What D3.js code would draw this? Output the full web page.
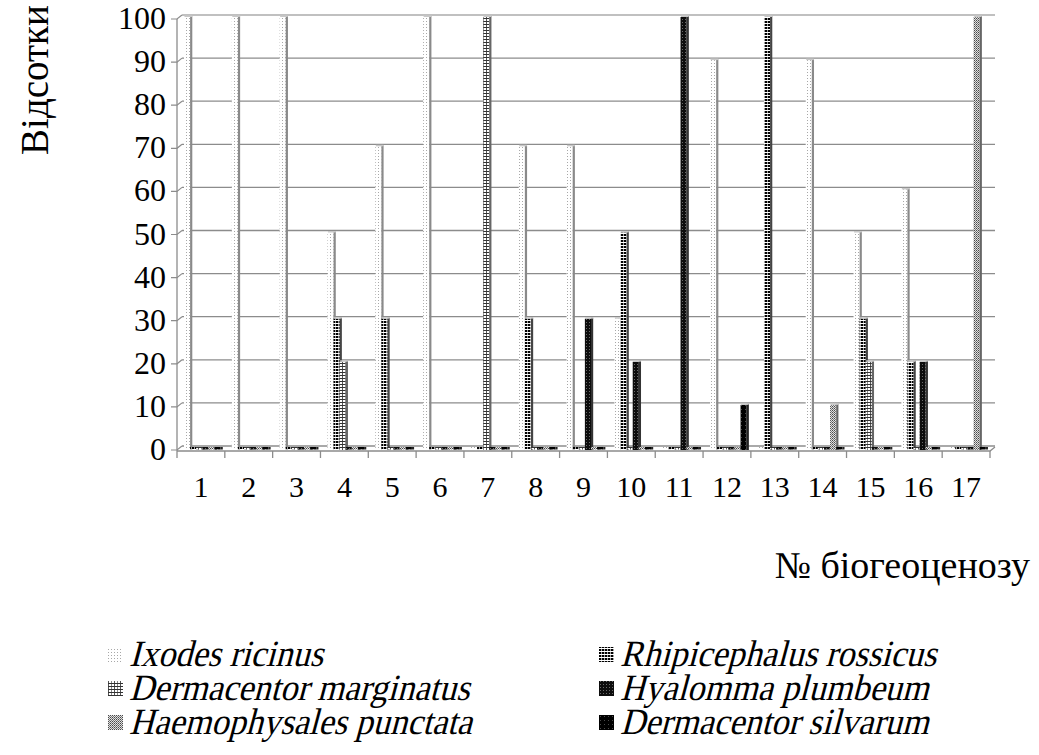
<!DOCTYPE html>
<html>
<head>
<meta charset="utf-8">
<script src="https://cdn.jsdelivr.net/npm/d3@7"></script>
<style>
  html, body { margin: 0; padding: 0; background: #fff; }
  svg { display: block; }
  text { font-family: "Liberation Serif", "Times New Roman", serif; fill: #000; }
</style>
</head>
<body>
<div id="chart"></div>
<script>
;(function(d3){

    'use strict';

    // categories (biogeocenosis numbers)
    var categories = ['1','2','3','4','5','6','7','8','9','10','11','12','13','14','15','16','17'];

    // series names, in the order the bars stand in each group
    var seriesNames = ['Ixodes ricinus', 'Rhipicephalus rossicus', 'Dermacentor marginatus',
                       'Hyalomma plumbeum', 'Haemophysales punctata', 'Dermacentor silvarum'];

    // values, percent
    var ixodes    = [100,100,100,50,70,100,0,70,70,30,0,90,0,90,50,60,0];
    var rhipiceph = [0,0,0,30,30,0,0,30,0,50,0,0,100,0,30,20,0];
    var dermMarg  = [0,0,0,20,0,0,100,0,0,0,0,0,0,0,20,0,0];
    var hyalomma  = [0,0,0,0,0,0,0,0,30,20,100,0,0,0,0,20,0];
    var haemoph   = [0,0,0,0,0,0,0,0,0,0,0,0,0,10,0,0,100];
    var dermSilv  = [0,0,0,0,0,0,0,0,0,0,0,10,0,0,0,0,0];

    var yTicks = [0,10,20,30,40,50,60,70,80,90,100];

    // legend layout: left column, right column
    var legendLeft  = ['Ixodes ricinus', 'Dermacentor marginatus', 'Haemophysales punctata'];
    var legendRight = ['Rhipicephalus rossicus', 'Hyalomma plumbeum', 'Dermacentor silvarum'];

    var seriesValues = [ixodes, rhipiceph, dermMarg, hyalomma, haemoph, dermSilv];
    var patternIds = ['pIx', 'pRh', 'pDm', 'pHy', 'pHa', 'pDs'];
    var sideColors = ['#8a8a8a', '#444', '#666', '#333', '#666', '#222'];

    var serif = '"Liberation Serif", "Times New Roman", serif';

    var W = 1039, H = 755;

    var svg = d3.select('#chart').append('svg')
        .attr('width', W).attr('height', H);

    svg.append('rect').attr('width', W).attr('height', H).attr('fill', '#fff');

    // ---- patterns ----
    var defs = svg.append('defs');

    function pat(id, w, h, bg){
        var p = defs.append('pattern').attr('id', id)
            .attr('patternUnits', 'userSpaceOnUse')
            .attr('width', w).attr('height', h);
        p.append('rect').attr('width', w).attr('height', h).attr('fill', bg);
        return p;
    }

    var p1 = pat('pIx', 3, 3, '#fff');
    p1.append('rect').attr('x', 0).attr('y', 0).attr('width', 1).attr('height', 1).attr('fill', '#a8a8a8');

    var p2 = pat('pRh', 3, 3, '#fff');
    p2.append('rect').attr('x', 0).attr('y', 0).attr('width', 2).attr('height', 2).attr('fill', '#000');
    p2.append('rect').attr('x', 2).attr('y', 0.5).attr('width', 1).attr('height', 1).attr('fill', '#444');

    var p3 = pat('pDm', 6, 3, '#fff');
    p3.append('rect').attr('x', 0).attr('y', 0).attr('width', 6).attr('height', 1).attr('fill', '#333');
    p3.append('rect').attr('x', 0).attr('y', 1).attr('width', 1).attr('height', 2).attr('fill', '#555');
    p3.append('rect').attr('x', 3).attr('y', 1).attr('width', 1).attr('height', 2).attr('fill', '#888');

    var p4 = pat('pHy', 3, 3, '#0d0d0d');
    p4.append('rect').attr('x', 1).attr('y', 1).attr('width', 1).attr('height', 1).attr('fill', '#6a6a6a');

    var p5 = pat('pHa', 2, 2, '#e0e0e0');
    p5.append('rect').attr('x', 0).attr('y', 0).attr('width', 1).attr('height', 1).attr('fill', '#4a4a4a');
    p5.append('rect').attr('x', 1).attr('y', 1).attr('width', 1).attr('height', 1).attr('fill', '#7a7a7a');

    var p6 = pat('pDs', 4, 4, '#000');
    p6.append('rect').attr('x', 1).attr('y', 1).attr('width', 1).attr('height', 1).attr('fill', '#4a4a4a');

    // ---- scales ----
    var y = d3.scaleLinear().domain([0, 100]).range([446, 15]);

    var x = d3.scaleBand().domain(categories).range([177, 990]).paddingInner(0).paddingOuter(0);

    var xs = d3.scaleBand().domain(d3.range(seriesNames.length))
        .range([7, 7 + 6 * 6.1]).padding(0);

    var wallDx = 5, wallDy = 4;   // 3-D depth of the wall

    // ---- gridlines on back wall ----
    var grid = svg.append('g');
    grid.selectAll('line.grid').data(yTicks).enter().append('line')
        .attr('class', 'grid')
        .attr('x1', 177 + wallDx).attr('x2', 995)
        .attr('y1', function(d){ return y(d); })
        .attr('y2', function(d){ return y(d); })
        .attr('stroke', function(d){ return d === 100 ? '#c0c0c0' : '#8c8c8c'; })
        .attr('stroke-width', function(d){ return d === 100 ? 2 : 1.3; });

    // wall diagonals + tick stubs
    grid.selectAll('path.diag').data(yTicks).enter().append('path')
        .attr('class', 'diag')
        .attr('d', function(d){
            var yy = y(d);
            return 'M' + (177 - 6) + ',' + (yy + wallDy) + 'L177,' + (yy + wallDy) +
                   'L' + (177 + wallDx) + ',' + yy;
        })
        .attr('fill', 'none').attr('stroke', '#8c8c8c').attr('stroke-width', 1.2);

    // left axis line (front edge of wall)
    svg.append('line')
        .attr('x1', 177).attr('x2', 177)
        .attr('y1', y(100) + wallDy).attr('y2', y(0) + wallDy + 1)
        .attr('stroke', '#8c8c8c').attr('stroke-width', 1.3);

    // ---- bars ----
    var bars = svg.append('g');
    seriesValues.forEach(function(vals, si){
        var g = bars.append('g');
        var rows = vals.map(function(v, ci){ return {v: v, c: categories[ci]}; });
        var bw = xs.bandwidth();

        g.selectAll('rect.front').data(rows).enter().append('rect')
            .attr('class', 'front')
            .attr('x', function(d){ return x(d.c) + xs(si); })
            .attr('y', function(d){ return d.v > 0 ? y(d.v) + 2 : y(0) + 1; })
            .attr('width', bw)
            .attr('height', function(d){ return d.v > 0 ? y(0) - y(d.v) + 2 : 2.5; })
            .attr('fill', 'url(#' + patternIds[si] + ')');

        g.selectAll('rect.side').data(rows).enter().append('rect')
            .attr('class', 'side')
            .attr('x', function(d){ return x(d.c) + xs(si) + bw; })
            .attr('y', function(d){ return d.v > 0 ? y(d.v) + 1 : y(0) + 1; })
            .attr('width', 2.2)
            .attr('height', function(d){ return d.v > 0 ? y(0) - y(d.v) + 3 : 2.5; })
            .attr('fill', sideColors[si]);

        g.selectAll('rect.top').data(rows.filter(function(d){ return d.v > 0; })).enter().append('rect')
            .attr('class', 'top')
            .attr('x', function(d){ return x(d.c) + xs(si) + 0.5; })
            .attr('y', function(d){ return y(d.v) + 0.5; })
            .attr('width', bw + 1.5)
            .attr('height', 1.5)
            .attr('fill', '#c8c8c8');
    });

    // ---- floor front edge + category ticks ----
    var floorY = y(0) + wallDy + 1;
    svg.append('path')
        .attr('d', 'M177,' + floorY + 'L990,' + floorY + 'L995,' + (y(0) + 1))
        .attr('fill', 'none').attr('stroke', '#8c8c8c').attr('stroke-width', 1.3);

    var tickXs = categories.map(function(c){ return x(c); }).concat([x.range()[1]]);
    svg.selectAll('line.xtick').data(tickXs).enter().append('line')
        .attr('class', 'xtick')
        .attr('x1', function(d){ return d; }).attr('x2', function(d){ return d; })
        .attr('y1', floorY).attr('y2', floorY + 7)
        .attr('stroke', '#8c8c8c').attr('stroke-width', 1.3);

    // ---- tick labels ----
    svg.selectAll('text.ylab').data(yTicks).enter().append('text')
        .attr('class', 'ylab')
        .attr('x', 166)
        .attr('y', function(d){ return y(d) + wallDy + 10; })
        .attr('text-anchor', 'end')
        .attr('font-family', serif)
        .attr('font-size', 32)
        .text(function(d){ return d; });

    svg.selectAll('text.xlab').data(categories).enter().append('text')
        .attr('class', 'xlab')
        .attr('x', function(d){ return x(d) + x.bandwidth() / 2; })
        .attr('y', 497)
        .attr('text-anchor', 'middle')
        .attr('font-family', serif)
        .attr('font-size', 30)
        .text(function(d){ return d; });

    // ---- axis titles ----
    svg.append('text')
        .attr('transform', 'translate(48,80) rotate(-90)')
        .attr('text-anchor', 'middle')
        .attr('font-family', serif)
        .attr('font-size', 39)
        .text('Відсотки');

    svg.append('text')
        .attr('x', 1030).attr('y', 578)
        .attr('text-anchor', 'end')
        .attr('font-family', serif)
        .attr('font-size', 38)
        .text('№ біогеоценозу');

    // ---- legend ----
    // serif italic face is not installed, so slant (and narrow) the upright face
    function legendCol(names, x0){
        var rows = svg.append('g').selectAll('g').data(names).enter().append('g')
            .attr('transform', function(d, i){ return 'translate(' + x0 + ',' + (655 + i * 34) + ')'; });
        rows.append('rect')
            .attr('x', 0).attr('y', -8).attr('width', 15).attr('height', 15)
            .attr('fill', function(d){ return 'url(#' + patternIds[seriesNames.indexOf(d)] + ')'; });
        rows.append('text')
            .attr('transform', 'translate(21,11) skewX(-15) scale(0.93,1)')
            .attr('font-family', serif)
            .attr('font-size', 37)
            .text(function(d){ return d; });
    }

    legendCol(legendLeft, 108);
    legendCol(legendRight, 599);

}(window.d3));
</script>
</body>
</html>
